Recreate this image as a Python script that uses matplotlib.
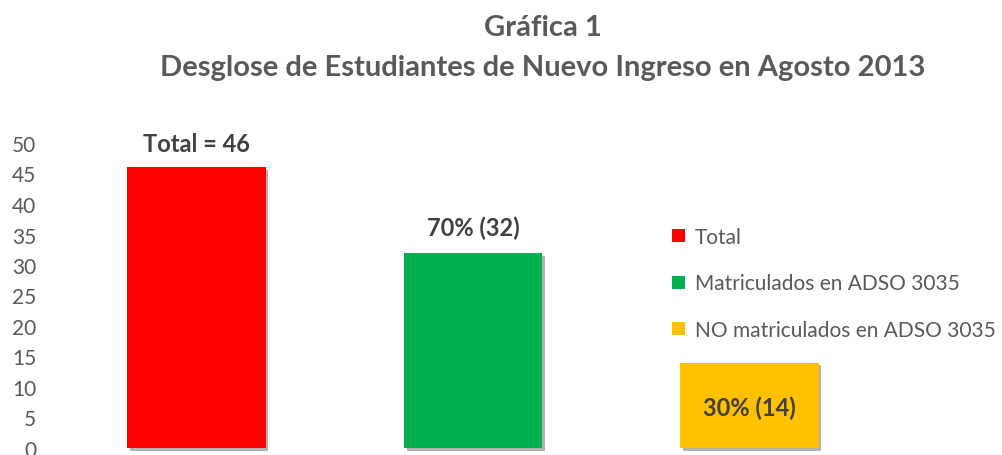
import matplotlib
matplotlib.use("Agg")
import matplotlib.pyplot as plt
import matplotlib.patheffects as pe
from matplotlib.patches import Patch

categories = ["Total", "Matriculados en ADSO 3035", "NO matriculados en ADSO 3035"]
values = [46, 32, 14]
bar_labels = ["Total = 46", "70% (32)", "30% (14)"]
colors = ["#FF0000", "#00B050", "#FFC000"]
yticks = [0, 5, 10, 15, 20, 25, 30, 35, 40, 45, 50]

plt.rcParams['font.family'] = ['Lato', 'DejaVu Sans']
gray = "#595959"
dark = "#404040"

W, H = 1002, 456
fig = plt.figure(figsize=(W / 100, H / 100), dpi=100)
ax_left, ax_right = 60, 860
ax_bottom, ax_top = 449, 144
ax = fig.add_axes([ax_left / W, (H - ax_bottom) / H, (ax_right - ax_left) / W, (ax_bottom - ax_top) / H])

x = list(range(len(values)))
bars = ax.bar(x, values, width=0.5, color=colors, zorder=3, clip_on=False)
for b in bars:
    b.set_path_effects([pe.SimplePatchShadow(offset=(2, -2), shadow_rgbFace="#7f7f7f", alpha=0.6), pe.Normal()])

ppu = 276.5
ax.set_xlim((ax_left - 196.5) / ppu, (ax_right - 196.5) / ppu)
ax.set_ylim(0, 50)
ax.set_yticks(yticks)
ax.set_yticklabels([str(t) for t in yticks], color=gray, fontsize=15)
ax.tick_params(axis='y', length=0, pad=17)
ax.set_xticks([])
for s in ax.spines.values():
    s.set_visible(False)

# bar labels
ax.text(x[0], values[0] + 2.0, bar_labels[0], ha='center', va='bottom', fontsize=17, fontweight='bold', color=dark)
ax.text(x[1], values[1] + 2.3, bar_labels[1], ha='center', va='bottom', fontsize=17, fontweight='bold', color=dark)
ax.text(x[2], values[2] - 7.3, bar_labels[2], ha='center', va='center', fontsize=17, fontweight='bold', color=dark)

fig.text(543 / W, 1 - 28 / H, "Gráfica 1", ha='center', va='center', fontsize=21, fontweight='bold', color=gray)
fig.text(543 / W, 1 - 68 / H, "Desglose de Estudiantes de Nuevo Ingreso en Agosto 2013", ha='center', va='center',
         fontsize=21, fontweight='bold', color=gray)

handles = [Patch(facecolor=c, edgecolor='none') for c in colors]
leg = fig.legend(handles, categories, loc='upper left', bbox_to_anchor=(672 / W, 1 - 228 / H), frameon=False,
                 fontsize=15, labelcolor=gray, handlelength=0.6, handleheight=0.6, handletextpad=0.5,
                 labelspacing=1.27, borderpad=0, borderaxespad=0)

fig.savefig("out.png", dpi=100)
